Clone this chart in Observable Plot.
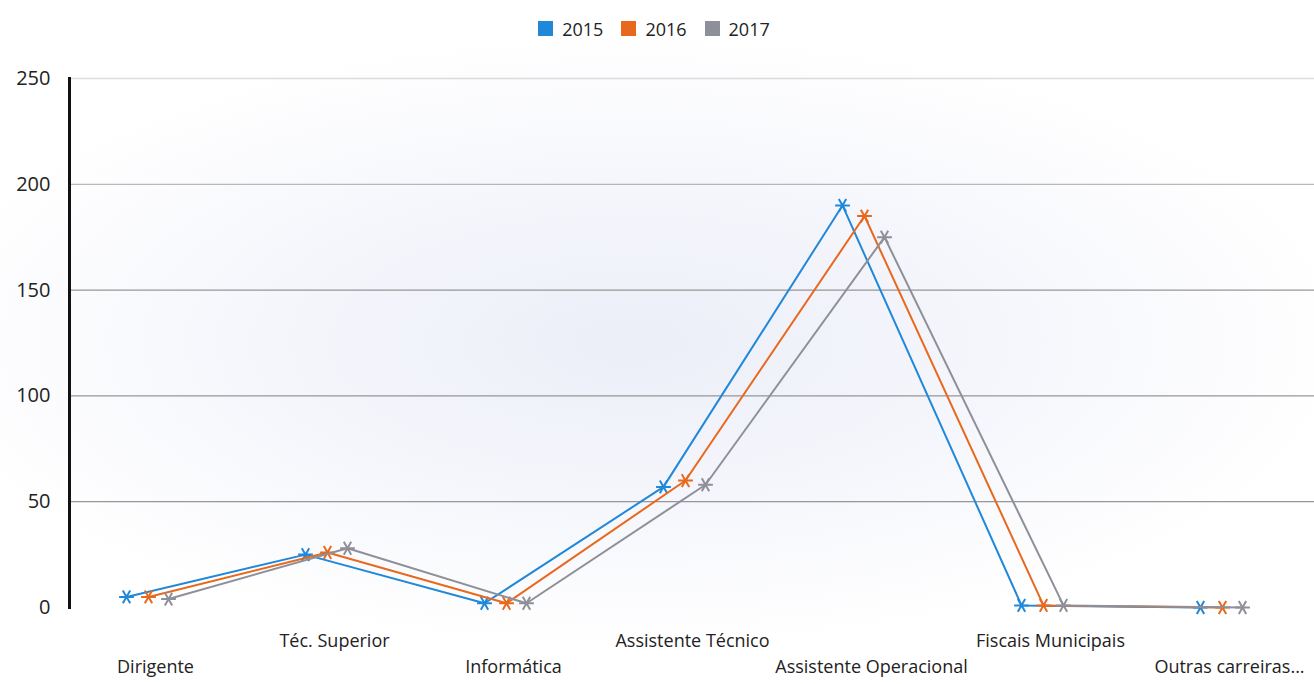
<!DOCTYPE html>
<html>
<head>
<meta charset="utf-8">
<script src="https://cdn.jsdelivr.net/npm/d3@7"></script>
<script src="https://cdn.jsdelivr.net/npm/@observablehq/plot@0.6"></script>
<style>
  html, body { margin: 0; padding: 0; }
  body {
    width: 1314px; height: 684px; overflow: hidden;
    background: radial-gradient(ellipse 55% 45% at 48% 50%, #eceef8 0%, #f6f7fc 55%, #ffffff 100%);
    font-family: "Open Sans", sans-serif;
  }
  #legend { height: 56px; display: flex; justify-content: center; align-items: center; padding-top: 10px; padding-left: 12px; box-sizing: border-box; }
  #chart svg { display: block; background: transparent; }
</style>
</head>
<body>
<div id="legend"></div>
<div id="chart"></div>
<script>
const categories = ["Dirigente", "Téc. Superior", "Informática", "Assistente Técnico", "Assistente Operacional", "Fiscais Municipais", "Outras carreiras..."];
const years = ["2015", "2016", "2017"];
const values2015 = [5, 25, 2, 57, 190, 1, 0];
const values2016 = [5, 26, 2, 60, 185, 1, 0];
const values2017 = [4, 28, 2, 58, 175, 1, 0];
const yTicks = [0, 50, 100, 150, 200, 250];
const colors = ["#2088d8", "#e8681e", "#8e9099"];
const offsets = [-22, 0, 20];

const seriesValues = [values2015, values2016, values2017];
const data = years.flatMap((yr, i) => categories.map((c, j) => ({year: yr, category: c, value: seriesValues[i][j]})));

const upperCats = categories.filter((_, i) => i % 2 === 1);
const lowerCats = categories.filter((_, i) => i % 2 === 0);

const legend = Plot.legend({
  color: {domain: years, range: colors},
  swatchSize: 15,
  style: {fontSize: "18px", fontFamily: "'Open Sans', sans-serif", color: "#222"}
});
document.getElementById("legend").append(legend);

const marks = [
  Plot.ruleY(yTicks.filter(d => d > 0), {stroke: "#8c8c8c", strokeWidth: 1.3, strokeOpacity: d => d === 250 ? 0.3 : d === 200 ? 0.6 : 0.9}),
  Plot.axisY(yTicks, {tickSize: 0, tickPadding: 19, fontSize: 20, color: "#222", label: null}),
  Plot.axisX(upperCats, {tickSize: 0, tickPadding: 27, fontSize: 18, color: "#222", label: null, dx: 7}),
  Plot.axisX(lowerCats, {tickSize: 0, tickPadding: 53, fontSize: 18, color: "#222", label: null, dx: 7}),
  Plot.frame({anchor: "left", stroke: "#111", strokeWidth: 3})
];
years.forEach((yr, i) => {
  const d = data.filter(r => r.year === yr);
  marks.push(Plot.line(d, {x: "category", y: "value", stroke: colors[i], strokeWidth: 2, dx: offsets[i]}));
  marks.push(Plot.dot(d, {x: "category", y: "value", stroke: colors[i], symbol: "asterisk", r: 7, rotate: 90, strokeWidth: 2, dx: offsets[i]}));
});

const chart = Plot.plot({
  width: 1314,
  height: 628,
  marginLeft: 69,
  marginRight: 0,
  marginTop: 22,
  marginBottom: 77,
  style: {fontFamily: "'Open Sans', sans-serif", background: "transparent"},
  x: {type: "point", domain: categories, range: [147, 1222], padding: 0, axis: null},
  y: {domain: [0, 250], axis: null},
  marks
});
document.getElementById("chart").append(chart);
</script>
</body>
</html>
